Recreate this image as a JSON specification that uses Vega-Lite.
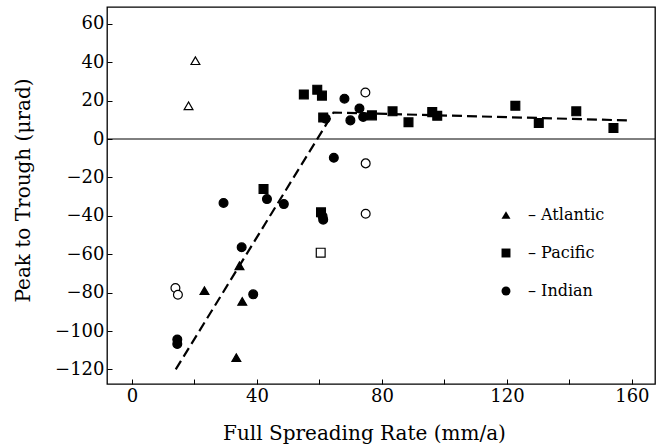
{
  "$schema": "https://vega.github.io/schema/vega-lite/v6.json",
  "width": 548,
  "height": 377,
  "autosize": {"type": "none"},
  "padding": {"left": 107, "top": 7, "right": 3, "bottom": 64},
  "background": "white",
  "config": {
    "view": {"stroke": "black", "strokeWidth": 1.3},
    "axis": {
      "labelFont": "DejaVu Serif",
      "labelFontSize": 18,
      "labelColor": "black",
      "titleFont": "DejaVu Serif",
      "titleFontSize": 20,
      "titleFontWeight": "normal",
      "titleColor": "black",
      "domain": false,
      "grid": false,
      "tickColor": "black",
      "tickWidth": 1,
      "tickSize": -5
    }
  },
  "layer": [
    {
      "data": {"values": [{"ptt": 0}]},
      "mark": {"type": "rule", "color": "black", "strokeWidth": 1},
      "encoding": {
        "y": {
          "field": "ptt", "type": "quantitative",
          "scale": {"domain": [-127.6, 68.75], "nice": false, "zero": false},
          "axis": {
            "values": [-120, -100, -80, -60, -40, -20, 0, 20, 40, 60],
            "labelPadding": 8,
            "title": "Peak to Trough (μrad)",
            "titleX": -78,
            "titleY": 183,
            "titleAngle": -90,
            "titleAlign": "center",
            "titleBaseline": "alphabetic"
          }
        }
      }
    },
    {
      "data": {"values": [
        {"rate": 14, "ptt": -120},
        {"rate": 64.5, "ptt": 13.8},
        {"rate": 158.4, "ptt": 9.7}
      ]},
      "mark": {"type": "line", "color": "black", "strokeWidth": 2.2, "strokeDash": [10, 5]},
      "encoding": {
        "x": {
          "field": "rate", "type": "quantitative",
          "scale": {"domain": [-8, 167.4], "nice": false, "zero": false},
          "axis": {
            "values": [0, 20, 40, 60, 80, 100, 120, 140, 160],
            "labelExpr": "datum.value % 40 === 0 ? datum.label : ''",
            "labelPadding": 8,
            "title": "Full Spreading Rate (mm/a)",
            "titleX": 257,
            "titleY": 55,
            "titleAlign": "center",
            "titleBaseline": "alphabetic"
          }
        },
        "y": {
          "field": "ptt", "type": "quantitative",
          "scale": {"domain": [-127.6, 68.75], "nice": false, "zero": false},
          "axis": {
            "values": [-120, -100, -80, -60, -40, -20, 0, 20, 40, 60],
            "labelPadding": 8,
            "title": "Peak to Trough (μrad)",
            "titleX": -78,
            "titleY": 183,
            "titleAngle": -90,
            "titleAlign": "center",
            "titleBaseline": "alphabetic"
          }
        }
      }
    },
    {
      "data": {"values": [
        {"ocean": "Atlantic", "style": "filled", "rate": 23.2, "ptt": -79.0},
        {"ocean": "Atlantic", "style": "filled", "rate": 34.4, "ptt": -66.0},
        {"ocean": "Atlantic", "style": "filled", "rate": 35.3, "ptt": -84.6},
        {"ocean": "Atlantic", "style": "filled", "rate": 33.4, "ptt": -113.9},
        {"ocean": "Atlantic", "style": "open", "rate": 20.3, "ptt": 40.8},
        {"ocean": "Atlantic", "style": "open", "rate": 18.1, "ptt": 17.3},
        {"ocean": "Pacific", "style": "filled", "rate": 55.0, "ptt": 23.2},
        {"ocean": "Pacific", "style": "filled", "rate": 59.3, "ptt": 25.7},
        {"ocean": "Pacific", "style": "filled", "rate": 60.8, "ptt": 22.6},
        {"ocean": "Pacific", "style": "filled", "rate": 61.2, "ptt": 11.2},
        {"ocean": "Pacific", "style": "filled", "rate": 76.8, "ptt": 12.3},
        {"ocean": "Pacific", "style": "filled", "rate": 83.4, "ptt": 14.4},
        {"ocean": "Pacific", "style": "filled", "rate": 88.5, "ptt": 8.7},
        {"ocean": "Pacific", "style": "filled", "rate": 96.1, "ptt": 14.0},
        {"ocean": "Pacific", "style": "filled", "rate": 97.7, "ptt": 12.1},
        {"ocean": "Pacific", "style": "filled", "rate": 122.7, "ptt": 17.3},
        {"ocean": "Pacific", "style": "filled", "rate": 130.2, "ptt": 8.3},
        {"ocean": "Pacific", "style": "filled", "rate": 142.2, "ptt": 14.4},
        {"ocean": "Pacific", "style": "filled", "rate": 154.1, "ptt": 5.7},
        {"ocean": "Pacific", "style": "filled", "rate": 42.1, "ptt": -26.0},
        {"ocean": "Pacific", "style": "filled", "rate": 60.5, "ptt": -38.2},
        {"ocean": "Pacific", "style": "open", "rate": 60.4, "ptt": -59.2},
        {"ocean": "Indian", "style": "filled", "rate": 68.0, "ptt": 21.0},
        {"ocean": "Indian", "style": "filled", "rate": 62.0, "ptt": 10.6},
        {"ocean": "Indian", "style": "filled", "rate": 72.8, "ptt": 15.9},
        {"ocean": "Indian", "style": "filled", "rate": 69.9, "ptt": 9.7},
        {"ocean": "Indian", "style": "filled", "rate": 74.0, "ptt": 11.5},
        {"ocean": "Indian", "style": "filled", "rate": 64.6, "ptt": -9.8},
        {"ocean": "Indian", "style": "filled", "rate": 43.2, "ptt": -31.3},
        {"ocean": "Indian", "style": "filled", "rate": 29.3, "ptt": -33.3},
        {"ocean": "Indian", "style": "filled", "rate": 48.6, "ptt": -33.9},
        {"ocean": "Indian", "style": "filled", "rate": 61.0, "ptt": -40.2},
        {"ocean": "Indian", "style": "filled", "rate": 61.2, "ptt": -42.0},
        {"ocean": "Indian", "style": "filled", "rate": 35.1, "ptt": -56.4},
        {"ocean": "Indian", "style": "filled", "rate": 38.8, "ptt": -80.9},
        {"ocean": "Indian", "style": "filled", "rate": 14.5, "ptt": -104.4},
        {"ocean": "Indian", "style": "filled", "rate": 14.5, "ptt": -106.8},
        {"ocean": "Indian", "style": "open", "rate": 74.7, "ptt": 24.2},
        {"ocean": "Indian", "style": "open", "rate": 74.8, "ptt": -12.7},
        {"ocean": "Indian", "style": "open", "rate": 74.8, "ptt": -38.9},
        {"ocean": "Indian", "style": "open", "rate": 13.9, "ptt": -77.6},
        {"ocean": "Indian", "style": "open", "rate": 14.7, "ptt": -81.1}
      ]},
      "mark": {"type": "point", "filled": false, "stroke": "black", "strokeWidth": 1.2, "opacity": 1, "size": 78},
      "encoding": {
        "x": {
          "field": "rate", "type": "quantitative",
          "scale": {"domain": [-8, 167.4], "nice": false, "zero": false},
          "axis": {
            "values": [0, 20, 40, 60, 80, 100, 120, 140, 160],
            "labelExpr": "datum.value % 40 === 0 ? datum.label : ''",
            "labelPadding": 8,
            "title": "Full Spreading Rate (mm/a)",
            "titleX": 257,
            "titleY": 55,
            "titleAlign": "center",
            "titleBaseline": "alphabetic"
          }
        },
        "y": {
          "field": "ptt", "type": "quantitative",
          "scale": {"domain": [-127.6, 68.75], "nice": false, "zero": false},
          "axis": {
            "values": [-120, -100, -80, -60, -40, -20, 0, 20, 40, 60],
            "labelPadding": 8,
            "title": "Peak to Trough (μrad)",
            "titleX": -78,
            "titleY": 183,
            "titleAngle": -90,
            "titleAlign": "center",
            "titleBaseline": "alphabetic"
          }
        },
        "shape": {
          "field": "ocean", "type": "nominal",
          "scale": {"domain": ["Atlantic", "Pacific", "Indian"], "range": ["triangle-up", "square", "circle"]},
          "legend": {
            "orient": "none",
            "legendX": 391,
            "legendY": 200,
            "title": null,
            "padding": 0,
            "symbolSize": 80,
            "symbolFillColor": "black",
            "symbolStrokeColor": "black",
            "symbolStrokeWidth": 0,
            "labelFont": "DejaVu Serif",
            "labelFontSize": 16,
            "labelColor": "black",
            "labelOffset": 14,
            "rowPadding": 22,
            "labelExpr": "'–  ' + datum.label"
          }
        },
        "fill": {
          "field": "style", "type": "nominal",
          "scale": {"domain": ["filled", "open"], "range": ["black", "white"]},
          "legend": null
        }
      }
    }
  ]
}
